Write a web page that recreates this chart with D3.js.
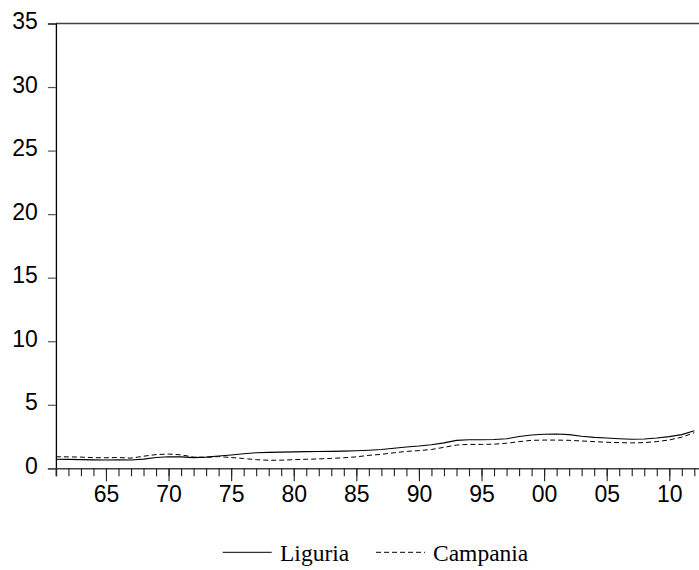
<!DOCTYPE html>
<html>
<head>
<meta charset="utf-8">
<script src="https://cdn.jsdelivr.net/npm/d3@7"></script>
<style>
  body { margin: 0; background: #fff; }
  svg { display: block; }
</style>
</head>
<body>
<div id="chart"></div>
<script>
// Years of the series (annual)
const years = d3.range(1961, 2013);

// Values
const liguria = [0.71, 0.70, 0.68, 0.66, 0.65, 0.66, 0.65, 0.72, 0.85, 0.91,
  0.90, 0.84, 0.88, 0.97, 1.05, 1.15, 1.22, 1.25, 1.27, 1.29,
  1.31, 1.32, 1.33, 1.35, 1.38, 1.42, 1.48, 1.58, 1.68, 1.75,
  1.85, 2.00, 2.20, 2.25, 2.25, 2.27, 2.32, 2.50, 2.62, 2.68,
  2.70, 2.65, 2.52, 2.43, 2.38, 2.32, 2.28, 2.30, 2.38, 2.49,
  2.65, 2.95];
const campania = [0.91, 0.90, 0.88, 0.84, 0.83, 0.85, 0.80, 0.95, 1.08, 1.12,
  1.06, 0.88, 0.86, 0.92, 0.85, 0.77, 0.68, 0.63, 0.64, 0.68,
  0.71, 0.74, 0.78, 0.83, 0.90, 1.02, 1.10, 1.22, 1.33, 1.39,
  1.48, 1.65, 1.83, 1.88, 1.88, 1.90, 1.97, 2.10, 2.20, 2.22,
  2.22, 2.20, 2.15, 2.10, 2.05, 2.02, 2.00, 2.02, 2.10, 2.23,
  2.45, 2.80];

// Tick values
const yTicks = [0, 5, 10, 15, 20, 25, 30, 35];
const majorYears = [1965, 1970, 1975, 1980, 1985, 1990, 1995, 2000, 2005, 2010];

const seriesNames = ["Liguria", "Campania"];

const W = 699, H = 570;
const plotLeft = 55.9, plotTop = 23.5, plotBottom = 468.3;
const perYear = 12.518;

const svg = d3.select("#chart").append("svg")
  .attr("width", W).attr("height", H);

const x = d3.scaleLinear()
  .domain([1961, 2013])
  .range([plotLeft, plotLeft + 52 * perYear]);

const y = d3.scaleLinear()
  .domain([0, 35])
  .range([plotBottom, plotTop]);

// top frame line
svg.append("line")
  .attr("x1", plotLeft).attr("x2", x(2013))
  .attr("y1", y(35)).attr("y2", y(35))
  .attr("stroke", "#404040").attr("stroke-width", 1.6);

// y axis
const yAxis = svg.append("g")
  .attr("transform", `translate(${plotLeft},0)`)
  .call(d3.axisLeft(y).tickValues(yTicks).tickSize(8).tickPadding(10));
yAxis.select(".domain").attr("stroke", "#000").attr("stroke-width", 1.3);
yAxis.selectAll(".tick line").attr("stroke", "#555").attr("stroke-width", 1.2);
yAxis.selectAll("text")
  .attr("dy", "0.22em")
  .style("font-family", "'Liberation Sans', Arial, sans-serif")
  .style("font-size", "23px")
  .attr("fill", "#000");

// x axis: minor ticks every year
const xMinor = svg.append("g")
  .attr("transform", `translate(0,${plotBottom})`)
  .call(d3.axisBottom(x).tickValues(years).tickSize(8).tickFormat(""));
xMinor.select(".domain").attr("stroke", "#404040").attr("stroke-width", 1.6);
xMinor.selectAll(".tick line").attr("stroke", "#222").attr("stroke-width", 1.1);

// major ticks with labels
const xMajor = svg.append("g")
  .attr("transform", `translate(0,${plotBottom})`)
  .call(d3.axisBottom(x).tickValues(majorYears).tickSize(13).tickPadding(4)
    .tickFormat(d => String(d).slice(2)));
xMajor.select(".domain").remove();
xMajor.selectAll(".tick line").attr("stroke", "#222").attr("stroke-width", 1.1);
xMajor.selectAll("text")
  .style("font-family", "'Liberation Sans', Arial, sans-serif")
  .style("font-size", "23px")
  .attr("fill", "#000");

// lines
const line = d3.line()
  .x((d, i) => x(years[i]))
  .y(d => y(d));

svg.append("path")
  .datum(campania)
  .attr("d", line)
  .attr("fill", "none")
  .attr("stroke", "#000")
  .attr("stroke-width", 1)
  .attr("stroke-dasharray", "5,3");

svg.append("path")
  .datum(liguria)
  .attr("d", line)
  .attr("fill", "none")
  .attr("stroke", "#000")
  .attr("stroke-width", 1.1);

// legend
const legendY = 552.3;
const legend = svg.append("g")
  .style("font-family", "'Liberation Serif', 'Times New Roman', serif")
  .style("font-size", "23.5px");
legend.append("line")
  .attr("x1", 222.7).attr("x2", 271.7)
  .attr("y1", legendY).attr("y2", legendY)
  .attr("stroke", "#000").attr("stroke-width", 1);
legend.append("text")
  .attr("x", 280).attr("y", 560.5)
  .text(seriesNames[0]);
legend.append("line")
  .attr("x1", 376).attr("x2", 425)
  .attr("y1", legendY).attr("y2", legendY)
  .attr("stroke", "#000").attr("stroke-width", 1)
  .attr("stroke-dasharray", "5,3");
legend.append("text")
  .attr("x", 433).attr("y", 560.5)
  .text(seriesNames[1]);
</script>
</body>
</html>
